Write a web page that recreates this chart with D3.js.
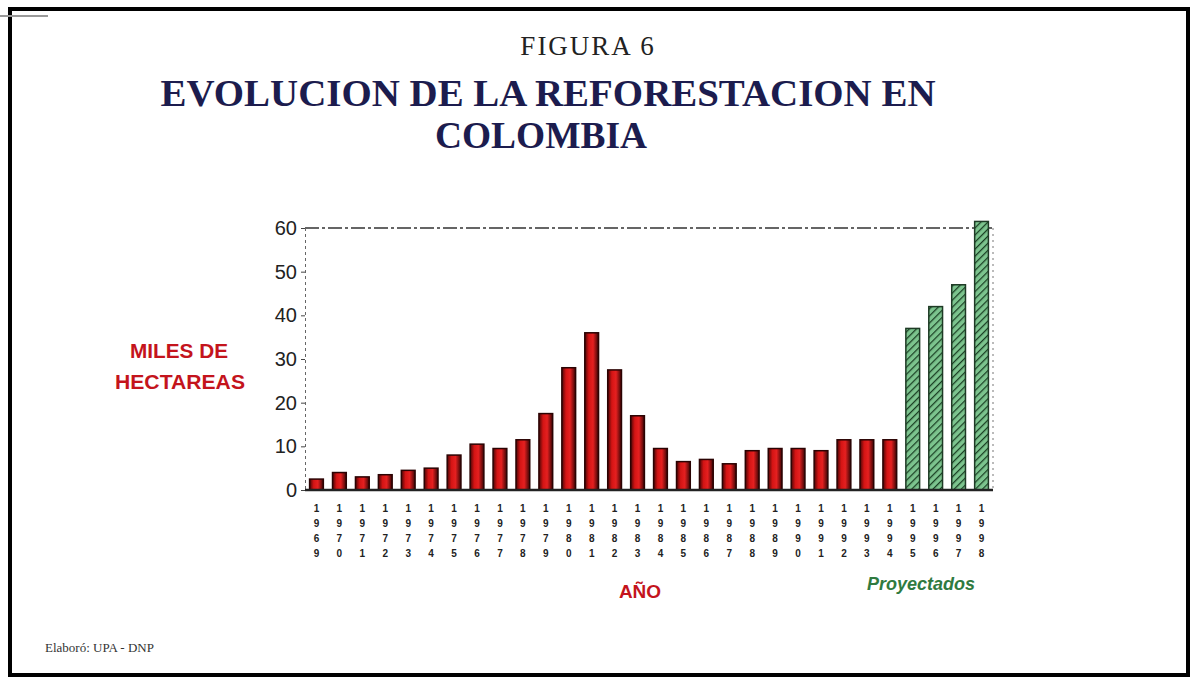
<!DOCTYPE html>
<html><head><meta charset="utf-8">
<script src="https://cdn.jsdelivr.net/npm/d3@7"></script>
<style>html,body{margin:0;padding:0;background:#fff;}svg{display:block;}</style>
</head><body>
<svg id="chart" width="1200" height="682"></svg>
<script>
const years = ["1969","1970","1971","1972","1973","1974","1975","1976","1977","1978","1979","1980","1981","1982","1983","1984","1985","1986","1987","1988","1989","1990","1991","1992","1993","1994","1995","1996","1997","1998"];
const values = [2.5,4,3,3.5,4.5,5,8,10.5,9.5,11.5,17.5,28,36,27.5,17,9.5,6.5,7,6,9,9.5,9.5,9,11.5,11.5,11.5,37,42,47,61.5];
const projected = [false,false,false,false,false,false,false,false,false,false,false,false,false,false,false,false,false,false,false,false,false,false,false,false,false,false,true,true,true,true];
const yTicks = [0,10,20,30,40,50,60];

const svg = d3.select("#chart");
const defs = svg.append("defs");
const g1 = defs.append("linearGradient").attr("id","redg").attr("x1","0").attr("x2","1").attr("y1","0").attr("y2","0");
g1.append("stop").attr("offset","0").attr("stop-color","#4a0606");
g1.append("stop").attr("offset","0.3").attr("stop-color","#d41414");
g1.append("stop").attr("offset","0.6").attr("stop-color","#e52020");
g1.append("stop").attr("offset","1").attr("stop-color","#3a0404");
const pat = defs.append("pattern").attr("id","hatch").attr("patternUnits","userSpaceOnUse").attr("width",5).attr("height",5).attr("patternTransform","rotate(45)");
pat.append("rect").attr("width",5).attr("height",5).attr("fill","#7cc48e");
pat.append("line").attr("x1",0).attr("y1",0).attr("x2",0).attr("y2",5).attr("stroke","#1a3f24").attr("stroke-width",2.5);

// frame
svg.append("rect").attr("x",10).attr("y",9).attr("width",1178).attr("height",666).attr("fill","none").attr("stroke","#000").attr("stroke-width",4);
svg.append("line").attr("x1",0).attr("x2",48).attr("y1",16).attr("y2",16).attr("stroke","#999").attr("stroke-width",2);

// titles
svg.append("text").attr("x",588).attr("y",55).attr("text-anchor","middle").attr("font-family","Liberation Serif, serif").attr("font-size",27).attr("letter-spacing",2).attr("fill","#222").text("FIGURA 6");
svg.append("text").attr("x",548).attr("y",106).attr("text-anchor","middle").attr("font-family","Liberation Serif, serif").attr("font-weight","bold").attr("font-size",37).attr("fill","#1c1c4e").attr("textLength",775).attr("lengthAdjust","spacingAndGlyphs").text("EVOLUCION DE LA REFORESTACION EN");
svg.append("text").attr("x",541).attr("y",148).attr("text-anchor","middle").attr("font-family","Liberation Serif, serif").attr("font-weight","bold").attr("font-size",37).attr("fill","#1c1c4e").attr("textLength",212).attr("lengthAdjust","spacingAndGlyphs").text("COLOMBIA");

const x = d3.scaleBand().domain(years).range([305,993]).paddingInner(0.4).paddingOuter(0.2);
const y = d3.scaleLinear().domain([0,60]).range([490,228]);

// plot frame lines
svg.append("line").attr("x1",305).attr("x2",993).attr("y1",y(60)).attr("y2",y(60)).attr("stroke","#333").attr("stroke-width",1.6).attr("stroke-dasharray","14,3,3,3");
svg.append("line").attr("x1",993).attr("x2",993).attr("y1",y(60)).attr("y2",y(0)).attr("stroke","#777").attr("stroke-width",1).attr("stroke-dasharray","2,4");

const yAxis = d3.axisLeft(y).tickValues(yTicks).tickSize(4).tickPadding(4);
const ga = svg.append("g").attr("transform","translate(305,0)").call(yAxis);
ga.select(".domain").attr("stroke","#666").attr("stroke-dasharray","3,3");
ga.selectAll(".tick line").attr("stroke","#444");
ga.selectAll(".tick text").attr("font-family","Liberation Sans, Arial, sans-serif").attr("font-size",20).attr("fill","#222");

// bars
svg.selectAll("rect.bar").data(years).enter().append("rect").attr("class","bar")
  .attr("x",d=>x(d)).attr("width",x.bandwidth())
  .attr("y",(d,i)=>y(values[i])).attr("height",(d,i)=>y(0)-y(values[i]))
  .attr("fill",(d,i)=>projected[i]?"url(#hatch)":"url(#redg)")
  .attr("stroke",(d,i)=>projected[i]?"#1e3a25":"#2a0303").attr("stroke-width",1.5);

// baseline
svg.append("line").attr("x1",305).attr("x2",993).attr("y1",y(0)).attr("y2",y(0)).attr("stroke","#222").attr("stroke-width",2.5);

// x tick labels (stacked digits)
const xl = svg.selectAll("text.yr").data(years).enter().append("text").attr("class","yr")
  .attr("font-family","Liberation Sans, Arial, sans-serif").attr("font-size",10).attr("font-weight","bold").attr("fill","#222").attr("text-anchor","middle");
xl.each(function(d){
  const t = d3.select(this);
  const cx = x(d)+x.bandwidth()/2;
  d.split("").forEach((c,k)=>{
    t.append("tspan").attr("x",cx).attr("y",512+k*15).text(c);
  });
});

// axis titles
svg.append("text").attr("x",179).attr("y",358).attr("text-anchor","middle").attr("font-family","Liberation Sans, Arial, sans-serif").attr("font-weight","bold").attr("font-size",21).attr("fill","#c4141c").attr("textLength",98).attr("lengthAdjust","spacingAndGlyphs").text("MILES DE");
svg.append("text").attr("x",180).attr("y",389).attr("text-anchor","middle").attr("font-family","Liberation Sans, Arial, sans-serif").attr("font-weight","bold").attr("font-size",21).attr("fill","#c4141c").attr("textLength",130).attr("lengthAdjust","spacingAndGlyphs").text("HECTAREAS");
svg.append("text").attr("x",640).attr("y",598).attr("text-anchor","middle").attr("font-family","Liberation Sans, Arial, sans-serif").attr("font-weight","bold").attr("font-size",19).attr("fill","#c4141c").text("AÑO");
svg.append("text").attr("x",921).attr("y",590).attr("text-anchor","middle").attr("font-family","Liberation Sans, Arial, sans-serif").attr("font-style","italic").attr("font-weight","bold").attr("font-size",18).attr("fill","#2f7a40").text("Proyectados");
svg.append("text").attr("x",45).attr("y",652).attr("font-family","Liberation Serif, serif").attr("font-size",13).attr("fill","#333").text("Elaboró: UPA - DNP");
</script>
</body></html>
